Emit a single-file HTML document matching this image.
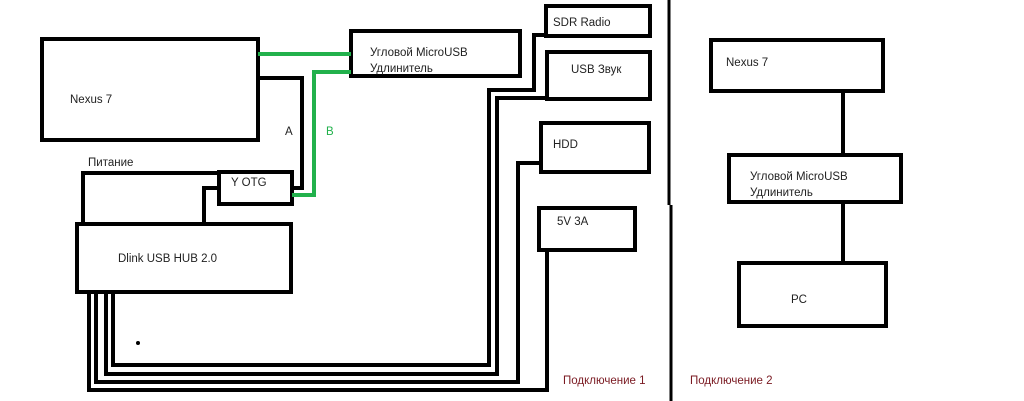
<!DOCTYPE html>
<html><head><meta charset="utf-8"><style>
html,body{margin:0;padding:0;background:#fff;width:1024px;height:401px;overflow:hidden}
svg{display:block}
text{font-family:"Liberation Sans","DejaVu Sans",sans-serif;font-size:11.5px;fill:#222}
</style></head><body>
<svg width="1024" height="401" viewBox="0 0 1024 401" xmlns="http://www.w3.org/2000/svg">
<g fill="none" stroke="#000" stroke-width="4">
<rect x="42" y="39" width="216" height="101"/>
<rect x="351" y="31" width="169" height="45"/>
<rect x="546" y="6" width="104" height="30"/>
<rect x="547" y="52" width="103" height="47"/>
<rect x="541" y="123" width="108" height="49"/>
<rect x="539" y="208" width="96" height="42"/>
<rect x="219" y="172" width="73" height="32"/>
<rect x="77" y="224" width="214" height="68"/>
<rect x="711" y="40" width="172" height="51"/>
<rect x="729" y="155" width="172" height="47"/>
<rect x="739" y="263" width="147" height="63"/>
<polyline points="258,78 302,78 302,188 292,188"/>
<polyline points="219,173 83,173 83,224"/>
<polyline points="219,188 204,188 204,224"/>
<polyline points="546,35 534,35 534,90 489,90 489,365 113,365 113,292"/>
<polyline points="547,98 497,98 497,374 106,374 106,292"/>
<polyline points="541,163 518,163 518,382 96,382 96,292"/>
<polyline points="547,250 547,390 89,390 89,292"/>
<line x1="843" y1="91" x2="843" y2="155"/>
<line x1="843" y1="202" x2="843" y2="263"/>
<line x1="669" y1="0" x2="669" y2="205" stroke-width="3"/>
<line x1="671" y1="205" x2="671" y2="401" stroke-width="3"/>
</g>
<g fill="none" stroke="#22b14c" stroke-width="4">
<line x1="258" y1="54" x2="351" y2="54"/>
<polyline points="351,72 314,72 314,195 292,195"/>
</g>
<circle cx="138" cy="343" r="2" fill="#000"/>
<text x="70" y="103">Nexus 7</text>
<text x="370" y="56">Угловой MicroUSB</text>
<text x="370" y="72">Удлинитель</text>
<text x="285" y="135">A</text>
<text x="326" y="135" style="fill:#22b14c">B</text>
<text x="553" y="26">SDR Radio</text>
<text x="571" y="73">USB Звук</text>
<text x="553" y="148">HDD</text>
<text x="557" y="225">5V 3A</text>
<text x="88" y="166">Питание</text>
<text x="231" y="186">Y OTG</text>
<text x="118" y="262">Dlink USB HUB 2.0</text>
<text x="563" y="384" style="fill:#7a1a22">Подключение 1</text>
<text x="690" y="384" style="fill:#7a1a22">Подключение 2</text>
<text x="726" y="66">Nexus 7</text>
<text x="750" y="180">Угловой MicroUSB</text>
<text x="750" y="196">Удлинитель</text>
<text x="791" y="303">PC</text>
</svg>
</body></html>
